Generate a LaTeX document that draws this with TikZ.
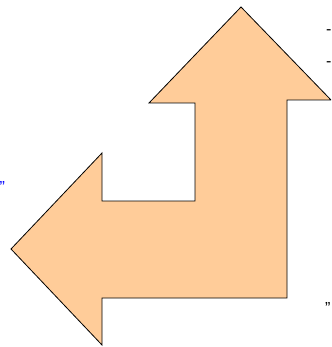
\documentclass[tikz,border=0pt]{standalone}
\usepackage{fontspec}
\setmainfont{Liberation Sans}
\definecolor{peach}{RGB}{255,204,153}
\definecolor{qblue}{RGB}{0,0,255}
\begin{document}
\begin{tikzpicture}[x=1pt,y=-1pt,
  lbl/.style={inner sep=0pt,font=\fontsize{16}{19}\selectfont,anchor=base west}]
\useasboundingbox (0,0) rectangle (331,347);
\clip (0,0) rectangle (331,347);
\path[fill=peach,draw=black,line width=0.8pt,line join=miter]
  (241,7) -- (331,100) -- (287,100) -- (287,298) -- (102,298) -- (102,345)
  -- (11,249) -- (102,153) -- (102,201) -- (195,201) -- (195,103) -- (149,103) -- cycle;
\node[lbl] (d1) at (326,4) {-};
\node[lbl] (d2) at (326,34.5) {-};
\node[lbl] (d3) at (326,66.5) {-};
\node[lbl,text=qblue] (q1) at (-0.5,192.5) {"};
\node[lbl] (q2) at (325,313.5) {"};
\end{tikzpicture}
\end{document}
